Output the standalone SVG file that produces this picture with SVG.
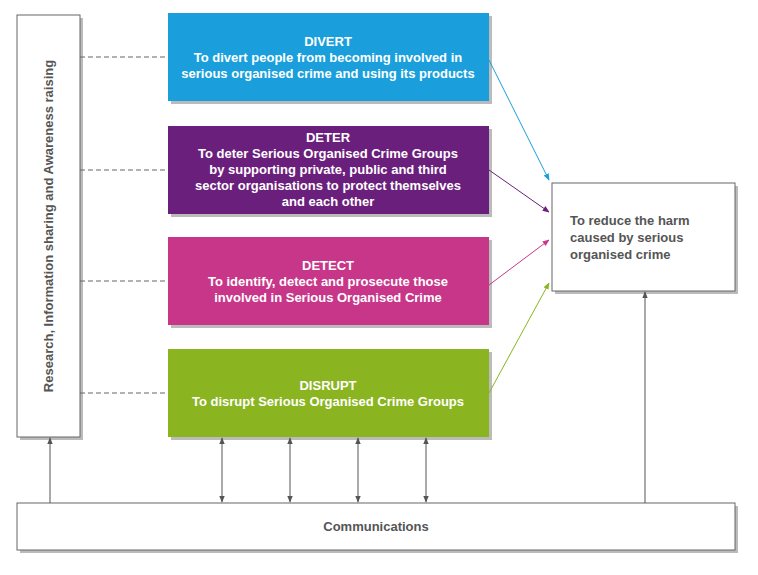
<svg xmlns="http://www.w3.org/2000/svg" width="758" height="575" viewBox="0 0 758 575">
<style>
.t{font-family:"Liberation Sans",Arial,sans-serif;font-weight:bold;font-size:13px;fill:#fff;text-anchor:middle}
.g{fill:#555}
.sh{fill:#bbb}
.wb{fill:#fff;stroke:#666;stroke-width:1}
.ds{stroke:#666;stroke-dasharray:5,3;stroke-width:1}
.ln{stroke:#555;stroke-width:1;fill:none}
</style>
<defs>
<marker id="a" viewBox="0 0 10 10" refX="9" refY="5" markerWidth="7" markerHeight="7" orient="auto-start-reverse"><path d="M0,1 L10,5 L0,9 z" fill="#555"/></marker>
<marker id="ab" viewBox="0 0 10 10" refX="9" refY="5" markerWidth="7" markerHeight="7" orient="auto"><path d="M0,1 L10,5 L0,9 z" fill="#1a9fdc"/></marker>
<marker id="ap" viewBox="0 0 10 10" refX="9" refY="5" markerWidth="7" markerHeight="7" orient="auto"><path d="M0,1 L10,5 L0,9 z" fill="#6b1f7c"/></marker>
<marker id="ak" viewBox="0 0 10 10" refX="9" refY="5" markerWidth="7" markerHeight="7" orient="auto"><path d="M0,1 L10,5 L0,9 z" fill="#c8368a"/></marker>
<marker id="ag" viewBox="0 0 10 10" refX="9" refY="5" markerWidth="7" markerHeight="7" orient="auto"><path d="M0,1 L10,5 L0,9 z" fill="#8ab520"/></marker>
</defs>
<g id="research">
<rect class="sh" x="20" y="18" width="63" height="422"/>
<rect class="wb" x="17" y="15" width="63" height="422"/>
<text class="t g" transform="translate(53,226) rotate(-90)">Research, Information sharing and Awareness raising</text>
</g>
<g id="divert">
<rect class="sh" x="171" y="16" width="321" height="88"/>
<rect x="168" y="13" width="321" height="88" fill="#1a9fdc"/>
<text class="t" x="328" y="46">DIVERT</text>
<text class="t" x="328" y="62">To divert people from becoming involved in</text>
<text class="t" x="328" y="78">serious organised crime and using its products</text>
</g>
<g id="deter">
<rect class="sh" x="171" y="129" width="321" height="88"/>
<rect x="168" y="126" width="321" height="88" fill="#6b1f7c"/>
<text class="t" x="328" y="142">DETER</text>
<text class="t" x="328" y="158">To deter Serious Organised Crime Groups</text>
<text class="t" x="328" y="174">by supporting private, public and third</text>
<text class="t" x="328" y="190">sector organisations to protect themselves</text>
<text class="t" x="328" y="206">and each other</text>
</g>
<g id="detect">
<rect class="sh" x="171" y="240" width="321" height="88"/>
<rect x="168" y="237" width="321" height="88" fill="#c8368a"/>
<text class="t" x="328" y="270">DETECT</text>
<text class="t" x="328" y="286">To identify, detect and prosecute those</text>
<text class="t" x="328" y="302">involved in Serious Organised Crime</text>
</g>
<g id="disrupt">
<rect class="sh" x="171" y="352" width="321" height="88"/>
<rect x="168" y="349" width="321" height="88" fill="#8ab520"/>
<text class="t" x="328" y="390">DISRUPT</text>
<text class="t" x="328" y="406">To disrupt Serious Organised Crime Groups</text>
</g>
<g id="goal">
<rect class="sh" x="555" y="186" width="183" height="108"/>
<rect class="wb" x="552" y="183" width="183" height="108"/>
<text class="t g" x="570" y="225" style="text-anchor:start">To reduce the harm</text>
<text class="t g" x="570" y="242" style="text-anchor:start">caused by serious</text>
<text class="t g" x="570" y="259" style="text-anchor:start">organised crime</text>
</g>
<g id="communications">
<rect class="sh" x="20" y="506" width="718" height="47"/>
<rect class="wb" x="17" y="503" width="718" height="47"/>
<text class="t g" x="376" y="531">Communications</text>
</g>
<g id="connectors">
<line class="ds" x1="80" y1="57" x2="168" y2="57"/>
<line class="ds" x1="80" y1="170" x2="168" y2="170"/>
<line class="ds" x1="80" y1="281" x2="168" y2="281"/>
<line class="ds" x1="80" y1="393" x2="168" y2="393"/>
<line x1="489" y1="60" x2="549" y2="180" stroke="#1a9fdc" marker-end="url(#ab)"/>
<line x1="489" y1="170" x2="549" y2="212" stroke="#6b1f7c" marker-end="url(#ap)"/>
<line x1="489" y1="285" x2="549" y2="240" stroke="#c8368a" marker-end="url(#ak)"/>
<line x1="489" y1="393" x2="549" y2="283" stroke="#8ab520" marker-end="url(#ag)"/>
<line class="ln" x1="222" y1="438" x2="222" y2="502" marker-start="url(#a)" marker-end="url(#a)"/>
<line class="ln" x1="290" y1="438" x2="290" y2="502" marker-start="url(#a)" marker-end="url(#a)"/>
<line class="ln" x1="358" y1="438" x2="358" y2="502" marker-start="url(#a)" marker-end="url(#a)"/>
<line class="ln" x1="426" y1="438" x2="426" y2="502" marker-start="url(#a)" marker-end="url(#a)"/>
<line class="ln" x1="50" y1="503" x2="50" y2="438" marker-end="url(#a)"/>
<line class="ln" x1="645" y1="503" x2="645" y2="292" marker-end="url(#a)"/>
</g>
</svg>
